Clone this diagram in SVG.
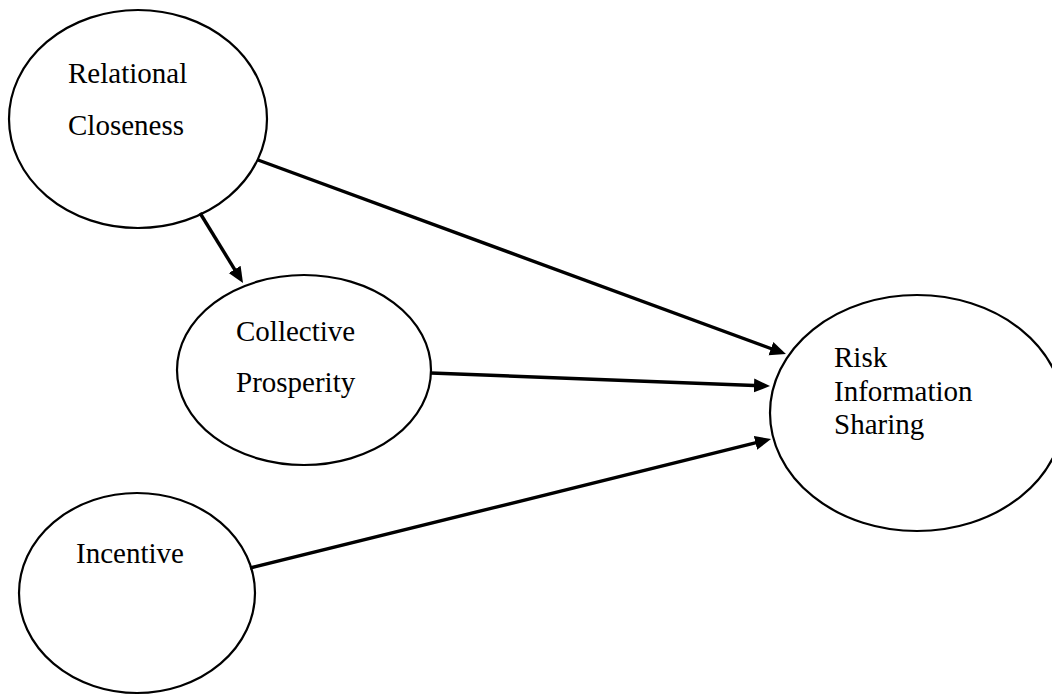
<svg xmlns="http://www.w3.org/2000/svg" width="1052" height="695" viewBox="0 0 1052 695">
  <style>
    .node { fill: #ffffff; stroke: #000000; stroke-width: 2.2; }
    .label { font-family: "Liberation Serif", "Times New Roman", serif; font-size: 29px; fill: #000000; }
    .edge { stroke: #000000; stroke-width: 3.4; fill: none; marker-end: url(#arrow); }
  </style>
  <defs>
    <!-- filled triangular head; refX leaves the tip 9px past the line end -->
    <marker id="arrow" markerUnits="userSpaceOnUse" markerWidth="18" markerHeight="15" refX="7" refY="7" orient="auto">
      <path d="M0,0 L16,7 L0,14 Z" fill="#000000"/>
    </marker>
  </defs>
  <rect x="0" y="0" width="1052" height="695" fill="#ffffff"/>

  <g id="node-relational-closeness">
    <ellipse class="node" cx="138" cy="119" rx="129" ry="109"/>
    <text class="label" x="68" y="83">Relational</text>
    <text class="label" x="68" y="135">Closeness</text>
  </g>

  <g id="node-collective-prosperity">
    <ellipse class="node" cx="304" cy="370" rx="127" ry="95"/>
    <text class="label" x="236" y="341">Collective</text>
    <text class="label" x="236" y="392">Prosperity</text>
  </g>

  <g id="node-risk-information-sharing">
    <ellipse class="node" cx="917" cy="413" rx="147" ry="118"/>
    <text class="label" x="834" y="367">Risk</text>
    <text class="label" x="834" y="401">Information</text>
    <text class="label" x="834" y="434">Sharing</text>
  </g>

  <g id="node-incentive">
    <ellipse class="node" cx="137" cy="593" rx="118" ry="100"/>
    <text class="label" x="76" y="563">Incentive</text>
  </g>

  <g id="connectors">
    <line class="edge" x1="258" y1="160" x2="777.5" y2="351"/>
    <line class="edge" x1="200" y1="213" x2="238.3" y2="275.4"/>
    <line class="edge" x1="431" y1="373" x2="761" y2="385.7"/>
    <line class="edge" x1="250" y1="568" x2="762.3" y2="441.2"/>
  </g>
</svg>
